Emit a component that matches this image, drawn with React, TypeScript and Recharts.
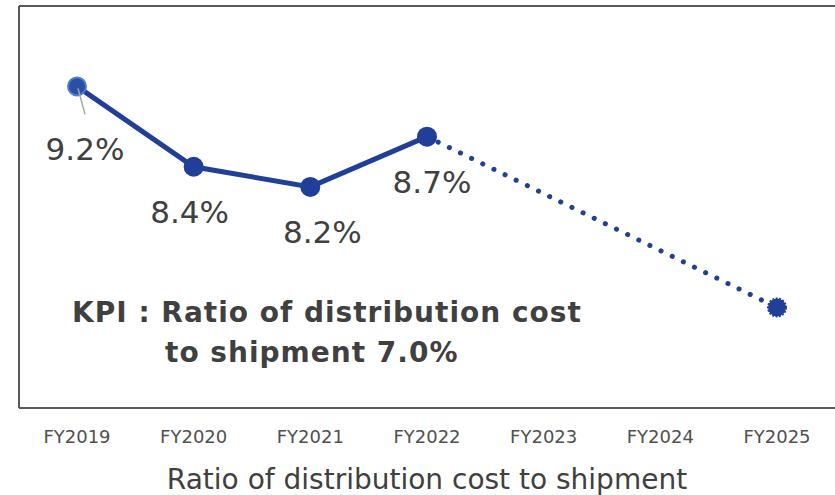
import { Customized, LabelList, Line, LineChart, ReferenceLine, XAxis, YAxis } from 'recharts';

const categories = ['FY2019', 'FY2020', 'FY2021', 'FY2022', 'FY2023', 'FY2024', 'FY2025'];
const actual = [9.2, 8.4, 8.2, 8.7, null, null, null];
const target = [null, null, null, 8.7, null, null, 7.0];
const kpiLines = ['KPI : Ratio of distribution cost', 'to shipment 7.0%'];
const axisTitle = 'Ratio of distribution cost to shipment';

const data = categories.map((name, i) => ({ name, actual: actual[i], target: target[i] }));

const BLUE = '#213f98';
const TEXT = '#404040';
const FRAME = '#595959';

// small per-label nudges so the values sit clear of the line
const labelDx = [8, -4, 12, 5];
const labelDy = [74, 56, 56, 56];

function ActualDot(props: any) {
  const { cx, cy, index, value } = props;
  if (value == null || cx == null) return null;
  if (index === 0) {
    return <circle cx={cx} cy={cy} r={9} fill="#2b4ea6" stroke="#4f7fd1" strokeWidth={2} />;
  }
  return <circle cx={cx} cy={cy} r={10} fill={BLUE} />;
}

function TargetDot(props: any) {
  const { cx, cy, index } = props;
  if (index !== categories.length - 1 || cx == null) return null;
  return <circle cx={cx} cy={cy} r={9} fill={BLUE} stroke={BLUE} strokeWidth={2} strokeDasharray="2 1.4" />;
}

function ValueLabel(props: any) {
  const { x, y, value, index } = props;
  if (value == null) return null;
  return (
    <g>
      {index === 0 && <line x1={x + 1} y1={y + 2} x2={x + 8} y2={y + 28} stroke="#a6a6a6" strokeWidth={1.5} />}
      <text x={x + labelDx[index]} y={y + labelDy[index]} textAnchor="middle" fontSize={31} fill={TEXT} fontFamily="DejaVu Sans">
        {`${value.toFixed(1)}%`}
      </text>
    </g>
  );
}

function KpiNote() {
  return (
    <g fontFamily="DejaVu Sans" fontWeight="bold" fontSize={28} fill={TEXT} letterSpacing={1}>
      <text x={72} y={322}>{kpiLines[0]}</text>
      <text x={165} y={362}>{kpiLines[1]}</text>
    </g>
  );
}

export default function App() {
  return (
    <div style={{ position: 'absolute', left: 0, top: 0, width: 835, height: 495, background: '#fff' }}>
      <LineChart width={835} height={495} data={data} margin={{ top: 6, right: 0, bottom: 0, left: 18 }}>
        <XAxis
          dataKey="name"
          height={87}
          padding={{ left: 58, right: 58 }}
          axisLine={{ stroke: FRAME, strokeWidth: 2 }}
          tickLine={false}
          tickSize={0}
          tickMargin={22}
          tick={{ fontSize: 18, fill: '#505050', fontFamily: 'DejaVu Sans' }}
          interval={0}
          label={{ value: axisTitle, position: 'insideBottom', offset: 6, fontSize: 28, fill: TEXT, fontFamily: 'DejaVu Sans' }}
        />
        <YAxis domain={[6, 10]} width={1} tick={false} tickLine={false} axisLine={{ stroke: FRAME, strokeWidth: 2 }} />
        <ReferenceLine y={10} stroke={FRAME} strokeWidth={2} ifOverflow="extendDomain" />
        <Line
          dataKey="target"
          stroke={BLUE}
          strokeWidth={5}
          strokeDasharray="0.1 12.3"
          strokeLinecap="round"
          connectNulls
          dot={<TargetDot />}
          activeDot={false}
          isAnimationActive={false}
        />
        <Line
          dataKey="actual"
          stroke={BLUE}
          strokeWidth={5}
          dot={<ActualDot />}
          activeDot={false}
          isAnimationActive={false}
        >
          <LabelList dataKey="actual" content={<ValueLabel />} />
        </Line>
        <Customized component={<KpiNote />} />
      </LineChart>
    </div>
  );
}
